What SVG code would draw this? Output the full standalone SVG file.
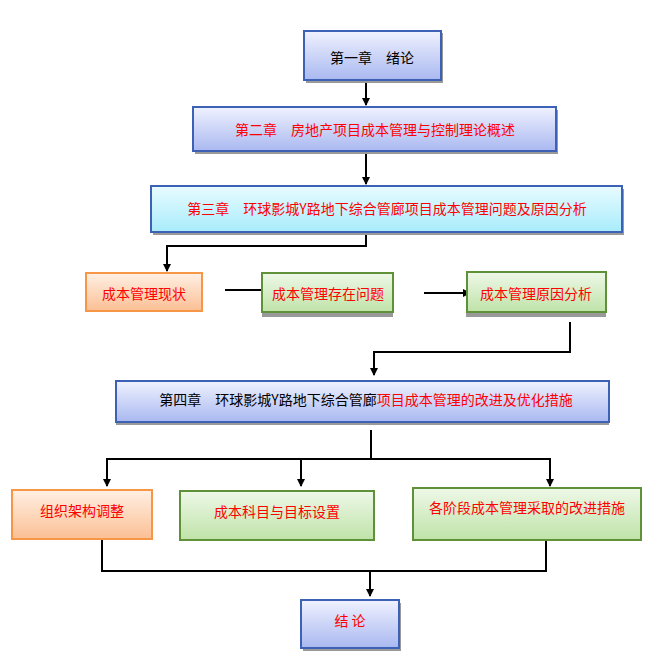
<svg xmlns="http://www.w3.org/2000/svg" width="663" height="670" viewBox="0 0 663 670">
<defs>
<linearGradient id="gb" x1="0" y1="0" x2="0" y2="1"><stop offset="0" stop-color="#f0f2ff"/><stop offset="1" stop-color="#a9b8f0"/></linearGradient>
<linearGradient id="gc" x1="0" y1="0" x2="0" y2="1"><stop offset="0" stop-color="#e8fbff"/><stop offset="1" stop-color="#a8ecfc"/></linearGradient>
<linearGradient id="go" x1="0" y1="0" x2="0" y2="1"><stop offset="0" stop-color="#fff0e4"/><stop offset="1" stop-color="#fbbf94"/></linearGradient>
<linearGradient id="gg" x1="0" y1="0" x2="0" y2="1"><stop offset="0" stop-color="#eef8e8"/><stop offset="1" stop-color="#bfe3a8"/></linearGradient>
<marker id="a" markerWidth="8" markerHeight="8" refX="7" refY="4" orient="auto" markerUnits="userSpaceOnUse"><path d="M0,0 L8,4 L0,8 z" fill="#000"/></marker>
</defs>
<style>
.b{fill:url(#gb);stroke:#3d62b5;stroke-width:2}
.c{fill:url(#gc);stroke:#3d62b5;stroke-width:2}
.o{fill:url(#go);stroke:#f79646;stroke-width:2}
.g{fill:url(#gg);stroke:#5f913a;stroke-width:2}
.s{fill:#999}
text{font-family:"Noto Sans CJK SC","Liberation Sans",sans-serif;font-size:14px;text-anchor:middle;dominant-baseline:central}
.r{fill:#f00}
.k{fill:#000}
.l{fill:none;stroke:#000;stroke-width:2}
</style>
<g id="connectors">
<path class="l" d="M366,80 V105" marker-end="url(#a)"/>
<path class="l" d="M366,151 V184" marker-end="url(#a)"/>
<path class="l" d="M366,232 V246 H167 V271" marker-end="url(#a)"/>
<path class="l" d="M225,290 H268" marker-end="url(#a)"/>
<path class="l" d="M424,293 H470" marker-end="url(#a)"/>
<path class="l" d="M570,322 V352 H374 V375" marker-end="url(#a)"/>
<path class="l" d="M371,430 V459"/>
<path class="l" d="M106,459 H551"/>
<path class="l" d="M107,459 V486" marker-end="url(#a)"/>
<path class="l" d="M301,459 V486" marker-end="url(#a)"/>
<path class="l" d="M550,459 V486" marker-end="url(#a)"/>
<path class="l" d="M102,540 V571 H546 V540"/>
<path class="l" d="M370,571 V596" marker-end="url(#a)"/>
</g>
<g id="n1"><rect class="s" x="306" y="33" width="137" height="50"/><rect class="b" x="304" y="31" width="137" height="49"/><text class="k" x="372" y="57">第一章　绪论</text></g>
<g id="n2"><rect class="s" x="195" y="110" width="363" height="44"/><rect class="b" x="193" y="107" width="363" height="44"/><text class="r" x="375" y="129">第二章　房地产项目成本管理与控制理论概述</text></g>
<g id="n3"><rect class="s" x="153" y="189" width="471" height="46"/><rect class="c" x="151" y="186" width="471" height="46"/><text class="r" x="387" y="208">第三章　环球影城Y路地下综合管廊项目成本管理问题及原因分析</text></g>
<g id="n4"><rect class="o" x="86" y="273" width="116" height="38"/><text class="r" x="144" y="293">成本管理现状</text></g>
<g id="n5"><rect class="s" x="262" y="275" width="131" height="42"/><rect class="g" x="262" y="273" width="131" height="39"/><text class="r" x="328" y="293">成本管理存在问题</text></g>
<g id="n6"><rect class="s" x="466" y="274" width="140" height="43"/><rect class="g" x="467" y="272" width="139" height="40"/><text class="r" x="536" y="293">成本管理原因分析</text></g>
<g id="n7"><rect class="s" x="116" y="383" width="493" height="42"/><rect class="b" x="116" y="381" width="493" height="41"/><text x="366" y="399"><tspan class="k">第四章　环球影城Y路地下综合管廊</tspan><tspan class="r">项目成本管理的改进及优化措施</tspan></text></g>
<g id="n8"><rect class="o" x="12" y="490" width="140" height="49"/><text class="r" x="82" y="510">组织架构调整</text></g>
<g id="n9"><rect class="g" x="180" y="491" width="194" height="49"/><text class="r" x="277" y="511">成本科目与目标设置</text></g>
<g id="n10"><rect class="g" x="413" y="488" width="228" height="52"/><text class="r" x="527" y="507">各阶段成本管理采取的改进措施</text></g>
<g id="n11"><rect class="s" x="303" y="603" width="98" height="48"/><rect class="b" x="301" y="600" width="98" height="48"/><text class="r" x="350" y="620">结 论</text></g>
</svg>
